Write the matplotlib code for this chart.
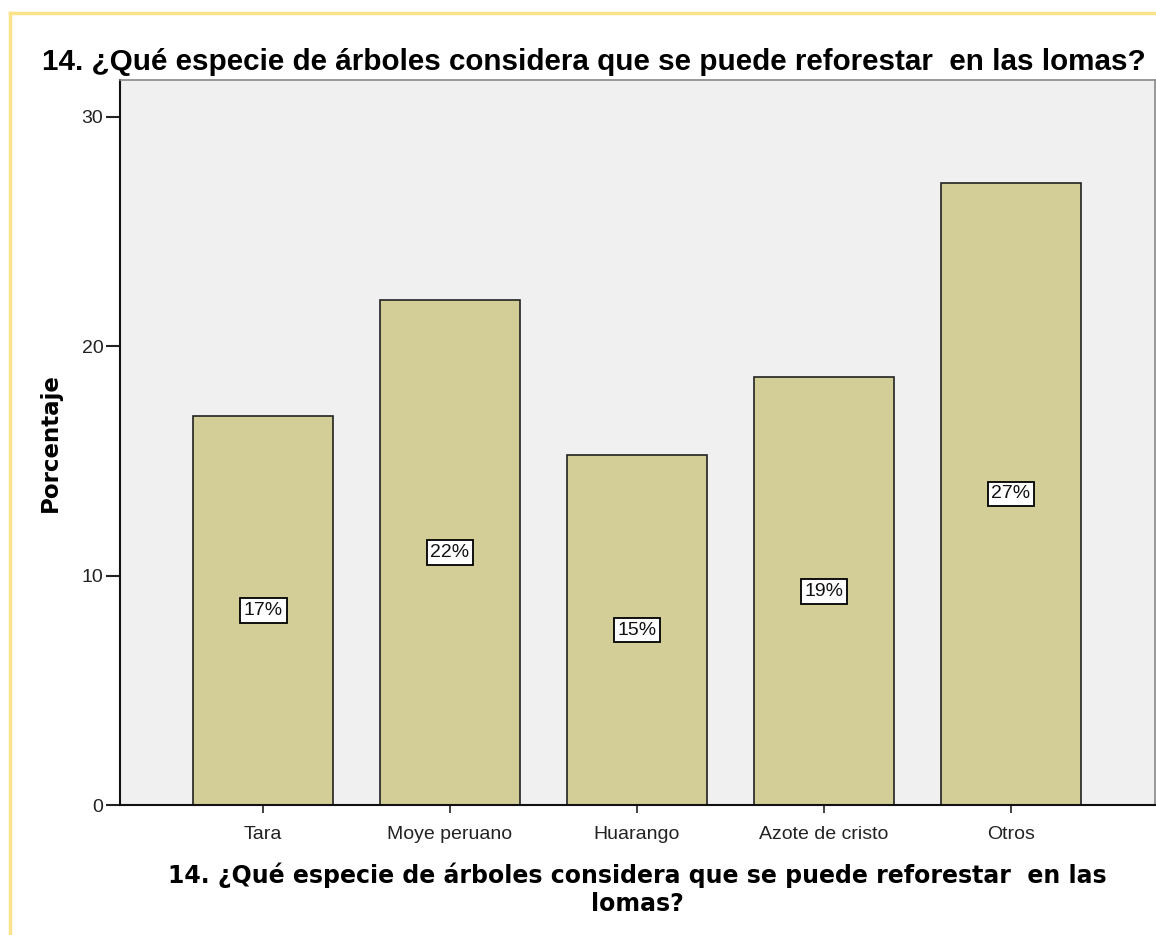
import matplotlib.pyplot as plt
from matplotlib.lines import Line2D

# Data (n = 59 respondents)
categories = ["Tara", "Moye peruano", "Huarango", "Azote de cristo", "Otros"]
percentages = [16.95, 22.03, 15.25, 18.64, 27.12]
bar_labels = ["17%", "22%", "15%", "19%", "27%"]
y_ticks = [0, 10, 20, 30]

title_text = "14. ¿Qué especie de árboles considera que se puede reforestar  en las lomas?"
xlabel_lines = ["14. ¿Qué especie de árboles considera que se puede reforestar  en las",
                "lomas?"]

W, H = 1156, 935
fig = plt.figure(figsize=(W / 100, H / 100), dpi=100)
fig.patch.set_facecolor("white")

# Plot area
ax = fig.add_axes([120 / W, 1 - 805 / H, (1155 - 120) / W, (805 - 80) / H])
ax.set_facecolor("#F0F0F0")

x = list(range(len(categories)))
ax.bar(x, percentages, width=0.75, color="#D3CE97",
       edgecolor="#222222", linewidth=1.2, zorder=2)

# Percent labels in white boxes at mid height
for xi, val, lab in zip(x, percentages, bar_labels):
    ax.text(xi, val / 2, lab, ha="center", va="center", fontsize=14,
            family="Liberation Sans", color="#111111", zorder=3,
            bbox=dict(boxstyle="square,pad=0.2", facecolor="white",
                      edgecolor="black", linewidth=1.3))

ax.set_xlim(-0.765, 4.77)
ax.set_ylim(0, 31.6)
ax.set_xticks(x)
ax.set_xticklabels(categories, family="Liberation Sans", fontsize=14)
ax.set_yticks(y_ticks)
ax.set_yticklabels([str(t) for t in y_ticks], family="Liberation Sans", fontsize=14)
ax.tick_params(axis="x", length=6, width=1.2, pad=9, colors="#222222")
ax.tick_params(axis="y", length=10, width=1.5, pad=2, colors="#222222")
for lbl in ax.get_xticklabels() + ax.get_yticklabels():
    lbl.set_color("#222222")

for side in ["left", "bottom"]:
    ax.spines[side].set_color("#111111")
    ax.spines[side].set_linewidth(1.5)
for side in ["top", "right"]:
    ax.spines[side].set_color("#888888")
    ax.spines[side].set_linewidth(1.2)

ax.set_ylabel("Porcentaje", fontsize=16.5, fontweight="bold", family="DejaVu Sans")
ax.yaxis.set_label_coords(-0.056, 0.5)

# Titles
fig.text(594 / W, 1 - 62 / H, title_text, ha="center", va="center",
         fontsize=21.3, fontweight="bold", family="Liberation Sans")
for line, base_y in zip(xlabel_lines, [883, 911]):
    fig.text(637 / W, 1 - base_y / H, line, ha="center", va="baseline",
             fontsize=17, fontweight="bold", family="DejaVu Sans")

# Light yellow frame (top and left edges)
fig.add_artist(Line2D([10 / W, 1], [1 - 13 / H, 1 - 13 / H], color="#FBE38C",
                      linewidth=2.5, transform=fig.transFigure))
fig.add_artist(Line2D([10 / W, 10 / W], [0, 1 - 13 / H], color="#FBE38C",
                      linewidth=2.5, transform=fig.transFigure))

fig.savefig("out.png", dpi=100)
